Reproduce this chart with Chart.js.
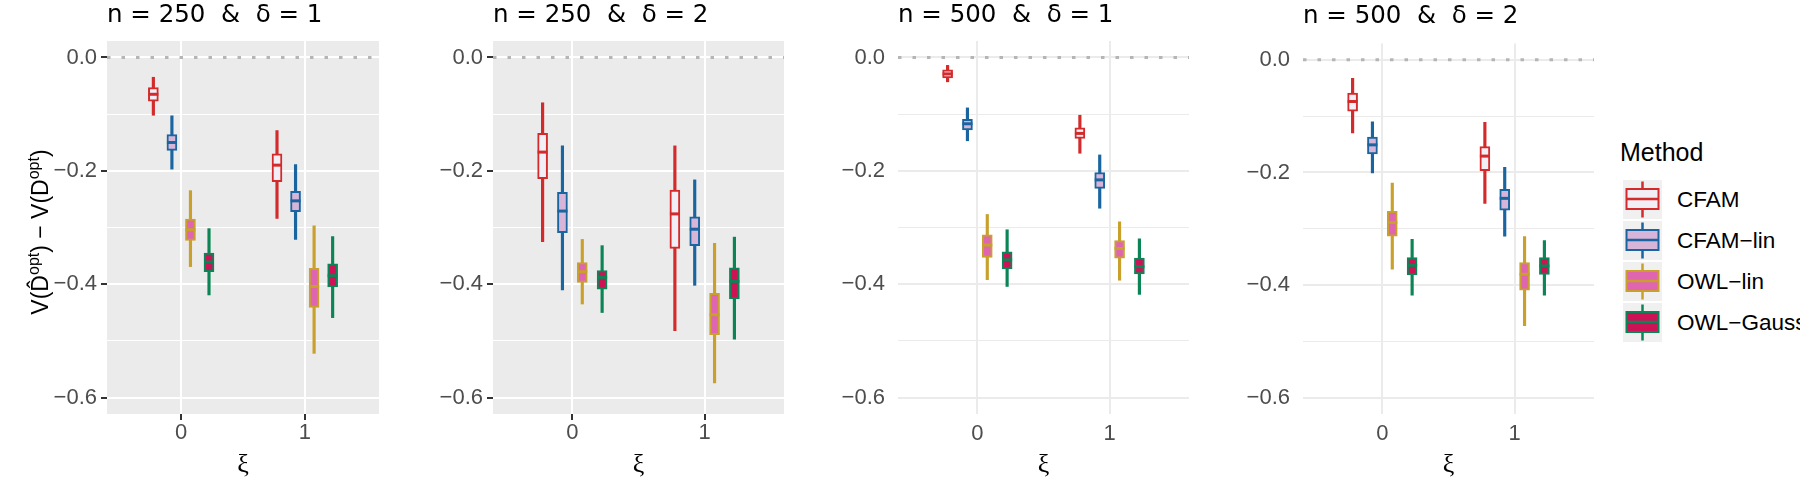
<!DOCTYPE html>
<html>
<head>
<meta charset="utf-8">
<script src="https://cdn.jsdelivr.net/npm/chart.js@4.4.1/dist/chart.umd.min.js"></script>
<style>
  body { margin: 0; width: 1800px; height: 478px; background: #fff; position: relative; overflow: hidden;
         font-family: "Liberation Sans", Arial, sans-serif; }
  canvas { position: absolute; top: 0; }
  #ytitle { position: absolute; left: -80px; top: 212px; width: 240px; height: 40px; line-height: 40px;
            text-align: center; white-space: nowrap; font-size: 23px; color: #000; transform: rotate(-90deg); }
  #ytitle sup { font-size: 16px; line-height: 0; vertical-align: 9px; }
  #legend { position: absolute; left: 0; top: 0; }
  .ltitle { position: absolute; left: 1620px; top: 140px; font-size: 25px; line-height: 25px; color: #000; }
  .lkey { position: absolute; left: 1623px; }
  .llab { position: absolute; left: 1677px; font-size: 22.5px; line-height: 39px; color: #000; white-space: nowrap; }
</style>
</head>
<body>
<canvas id="p1"></canvas>
<canvas id="p2"></canvas>
<canvas id="p3"></canvas>
<canvas id="p4"></canvas>
<div id="ytitle">V(D&#770;<sup>opt</sup>) &minus; V(D<sup>opt</sup>)</div>
<div id="legend"></div>

<script>
// ---- data ----
const methods = ['CFAM', 'CFAM−lin', 'OWL−lin', 'OWL−Gauss'];
const xiLevels = [0, 1];
const xiLabels = ['0', '1'];
const dodge = [-0.225, -0.075, 0.075, 0.225];
const yMajor = [0, -0.2, -0.4, -0.6];
const yMajorLabels = ['0.0', '−0.2', '−0.4', '−0.6'];
const yMinor = [-0.1, -0.3, -0.5];

const strokeColors = ['#D32B2B', '#1A659F', '#C9A02C', '#0C8556'];
const fillColors = ['#F1EEF6', '#D7B5D8', '#DF65B0', '#CE1256'];

// [lower whisker, Q1, median, Q3, upper whisker], one row for xi = 0 and one for xi = 1
const n250d1_CFAM      = [[-0.102, -0.077, -0.065, -0.053, -0.035], [-0.284, -0.219, -0.190, -0.170, -0.129]];
const n250d1_CFAMlin   = [[-0.197, -0.164, -0.150, -0.136, -0.103], [-0.321, -0.272, -0.253, -0.236, -0.189]];
const n250d1_OWLlin    = [[-0.369, -0.323, -0.304, -0.285, -0.235], [-0.522, -0.441, -0.404, -0.372, -0.297]];
const n250d1_OWLgauss  = [[-0.419, -0.378, -0.361, -0.345, -0.302], [-0.459, -0.405, -0.385, -0.364, -0.316]];

const n250d2_CFAM      = [[-0.325, -0.214, -0.167, -0.134, -0.080], [-0.482, -0.337, -0.276, -0.234, -0.156]];
const n250d2_CFAMlin   = [[-0.410, -0.309, -0.271, -0.238, -0.156], [-0.402, -0.332, -0.303, -0.281, -0.216]];
const n250d2_OWLlin    = [[-0.435, -0.397, -0.378, -0.362, -0.321], [-0.574, -0.489, -0.454, -0.416, -0.328]];
const n250d2_OWLgauss  = [[-0.450, -0.409, -0.388, -0.376, -0.332], [-0.497, -0.426, -0.395, -0.371, -0.317]];

const n500d1_CFAM      = [[-0.043, -0.036, -0.029, -0.022, -0.014], [-0.169, -0.143, -0.134, -0.124, -0.102]];
const n500d1_CFAMlin   = [[-0.147, -0.128, -0.117, -0.109, -0.089], [-0.266, -0.231, -0.216, -0.203, -0.172]];
const n500d1_OWLlin    = [[-0.392, -0.353, -0.331, -0.313, -0.277], [-0.393, -0.354, -0.337, -0.323, -0.290]];
const n500d1_OWLgauss  = [[-0.404, -0.373, -0.357, -0.343, -0.304], [-0.418, -0.382, -0.369, -0.354, -0.320]];

const n500d2_CFAM      = [[-0.130, -0.091, -0.074, -0.059, -0.033], [-0.255, -0.197, -0.171, -0.154, -0.111]];
const n500d2_CFAMlin   = [[-0.201, -0.167, -0.151, -0.137, -0.110], [-0.313, -0.267, -0.246, -0.230, -0.191]];
const n500d2_OWLlin    = [[-0.372, -0.313, -0.289, -0.269, -0.219], [-0.472, -0.409, -0.381, -0.360, -0.314]];
const n500d2_OWLgauss  = [[-0.418, -0.382, -0.365, -0.351, -0.319], [-0.418, -0.381, -0.366, -0.351, -0.321]];

// ---- panels (positions in page pixels) ----
const panels = [
  { id: 'p1', title: 'n = 250  &  δ = 1', grey: true,  left: 107, right: 379,  top: 41,   titleY: 22,
    boxes: [n250d1_CFAM, n250d1_CFAMlin, n250d1_OWLlin, n250d1_OWLgauss] },
  { id: 'p2', title: 'n = 250  &  δ = 2', grey: true,  left: 493, right: 784,  top: 41,   titleY: 22,
    boxes: [n250d2_CFAM, n250d2_CFAMlin, n250d2_OWLlin, n250d2_OWLgauss] },
  { id: 'p3', title: 'n = 500  &  δ = 1', grey: false, left: 898, right: 1189, top: 41,   titleY: 22,
    boxes: [n500d1_CFAM, n500d1_CFAMlin, n500d1_OWLlin, n500d1_OWLgauss] },
  { id: 'p4', title: 'n = 500  &  δ = 2', grey: false, left: 1303, right: 1594, top: 43.5, titleY: 23,
    boxes: [n500d2_CFAM, n500d2_CFAMlin, n500d2_OWLlin, n500d2_OWLgauss] }
];

// panel background (grey for theme_grey panels)
const panelBg = {
  id: 'panelBg',
  beforeDraw(chart, args, opts) {
    if (!opts.color) return;
    const { ctx, chartArea: a } = chart;
    ctx.save();
    ctx.fillStyle = opts.color;
    ctx.fillRect(a.left, a.top, a.right - a.left, a.bottom - a.top);
    ctx.restore();
  }
};

// median line across each box
const medianLines = {
  id: 'medianLines',
  afterDatasetsDraw(chart) {
    const ctx = chart.ctx, y = chart.scales.y;
    chart.data.datasets.forEach((ds, i) => {
      if (!ds.medians) return;
      const meta = chart.getDatasetMeta(i);
      ctx.save();
      ctx.strokeStyle = ds.borderColor;
      ctx.lineWidth = 3;
      meta.data.forEach((bar, j) => {
        const py = y.getPixelForValue(ds.medians[j]);
        ctx.beginPath();
        ctx.moveTo(bar.x - bar.width / 2, py);
        ctx.lineTo(bar.x + bar.width / 2, py);
        ctx.stroke();
      });
      ctx.restore();
    });
  }
};

// title aligned with the panel's left edge
const panelTitle = {
  id: 'panelTitle',
  afterDraw(chart, args, opts) {
    const { ctx, chartArea } = chart;
    ctx.save();
    ctx.font = '24.5px "DejaVu Sans"';
    ctx.fillStyle = '#000';
    ctx.textBaseline = 'alphabetic';
    ctx.fillText(opts.text, chartArea.left, opts.y);
    ctx.restore();
  }
};

function makePanel(p) {
  const yw = 90, xh = 64, padR = 6;
  const cv = document.getElementById(p.id);
  cv.width = yw + (p.right - p.left) + padR;
  cv.height = 478;
  cv.style.left = (p.left - yw) + 'px';

  const gridCol = p.grey ? '#FFFFFF' : '#EBEBEB';
  const tickCol = '#333333';
  const isMajor = c => c.tick && yMajor.includes(c.tick.value);

  const datasets = [];
  datasets.push({
    type: 'line',
    data: [{ x: -0.6, y: 0 }, { x: 1.6, y: 0 }],
    borderColor: '#B5B5B5', borderWidth: 3, borderDash: [3.5, 11], pointRadius: 0, order: 3
  });
  p.boxes.forEach((stats, k) => {
    datasets.push({
      label: methods[k] + ' whisker',
      data: stats.map((s, i) => ({ x: xiLevels[i] + dodge[k], y: [s[0], s[4]] })),
      backgroundColor: strokeColors[k], borderWidth: 0,
      barThickness: 2.5, grouped: false, order: 2
    });
    datasets.push({
      label: methods[k],
      data: stats.map((s, i) => ({ x: xiLevels[i] + dodge[k], y: [s[1], s[3]] })),
      medians: stats.map(s => s[2]),
      backgroundColor: fillColors[k], borderColor: strokeColors[k], borderWidth: 2,
      borderSkipped: false, barThickness: 10, grouped: false, order: 1
    });
  });

  new Chart(cv, {
    type: 'bar',
    data: { datasets },
    options: {
      responsive: false,
      animation: false,
      events: [],
      layout: { padding: { left: 0, right: padR, top: p.top, bottom: 0 } },
      scales: {
        x: {
          type: 'linear', min: -0.6, max: 1.6, offset: false,
          afterBuildTicks: s => { s.ticks = xiLevels.map(v => ({ value: v })); },
          afterFit: s => { s.height = xh; },
          ticks: {
            callback: v => xiLabels[xiLevels.indexOf(v)],
            autoSkip: false, maxRotation: 0,
            font: { family: 'Liberation Sans', size: 22 }, color: '#4D4D4D',
            padding: p.grey ? 0 : 7
          },
          grid: {
            offset: false, color: gridCol, lineWidth: 2,
            drawTicks: p.grey, tickLength: 6, tickWidth: 2, tickColor: tickCol
          },
          border: { display: false },
          title: {
            display: true, text: 'ξ', color: '#000', padding: 0,
            font: { family: 'Liberation Serif', size: 26, lineHeight: 1 }
          }
        },
        y: {
          min: -0.629, max: 0.029,
          afterBuildTicks: s => { s.ticks = [...yMajor, ...yMinor].sort((a, b) => a - b).map(v => ({ value: v })); },
          afterFit: s => { s.width = yw; },
          ticks: {
            callback: v => { const i = yMajor.indexOf(v); return i < 0 ? '' : yMajorLabels[i]; },
            autoSkip: false,
            font: { family: 'Liberation Sans', size: 22 }, color: '#4D4D4D',
            padding: p.grey ? 4 : 13
          },
          grid: {
            color: gridCol,
            lineWidth: c => isMajor(c) ? 2 : 1.1,
            drawTicks: p.grey, tickLength: 6, tickWidth: 2,
            tickColor: c => isMajor(c) ? tickCol : 'rgba(0,0,0,0)'
          },
          border: { display: false }
        }
      },
      plugins: {
        legend: { display: false },
        tooltip: { enabled: false },
        panelBg: { color: p.grey ? '#EBEBEB' : null },
        panelTitle: { text: p.title, y: p.titleY }
      }
    },
    plugins: [panelBg, medianLines, panelTitle]
  });
}

panels.forEach(makePanel);

// ---- legend ----
const legend = document.getElementById('legend');
const lt = document.createElement('div');
lt.className = 'ltitle';
lt.textContent = 'Method';
legend.appendChild(lt);

const keyTops = [180, 221, 262, 303];
methods.forEach((m, k) => {
  const key = document.createElement('canvas');
  key.className = 'lkey';
  key.width = 39; key.height = 39;
  key.style.top = keyTops[k] + 'px';
  const c = key.getContext('2d');
  c.fillStyle = '#F0F0F0';
  c.fillRect(0, 0, 39, 39);
  c.strokeStyle = strokeColors[k];
  c.lineWidth = 2.5;
  c.beginPath(); c.moveTo(19.5, 1.5); c.lineTo(19.5, 37.5); c.stroke();
  c.fillStyle = fillColors[k];
  c.fillRect(3.5, 9, 32, 20);
  c.lineWidth = 2;
  c.strokeRect(3.5, 9, 32, 20);
  c.lineWidth = 2.5;
  c.beginPath(); c.moveTo(3.5, 19); c.lineTo(35.5, 19); c.stroke();
  legend.appendChild(key);

  const lab = document.createElement('div');
  lab.className = 'llab';
  lab.style.top = keyTops[k] + 'px';
  lab.textContent = m;
  legend.appendChild(lab);
});
</script>
</body>
</html>
